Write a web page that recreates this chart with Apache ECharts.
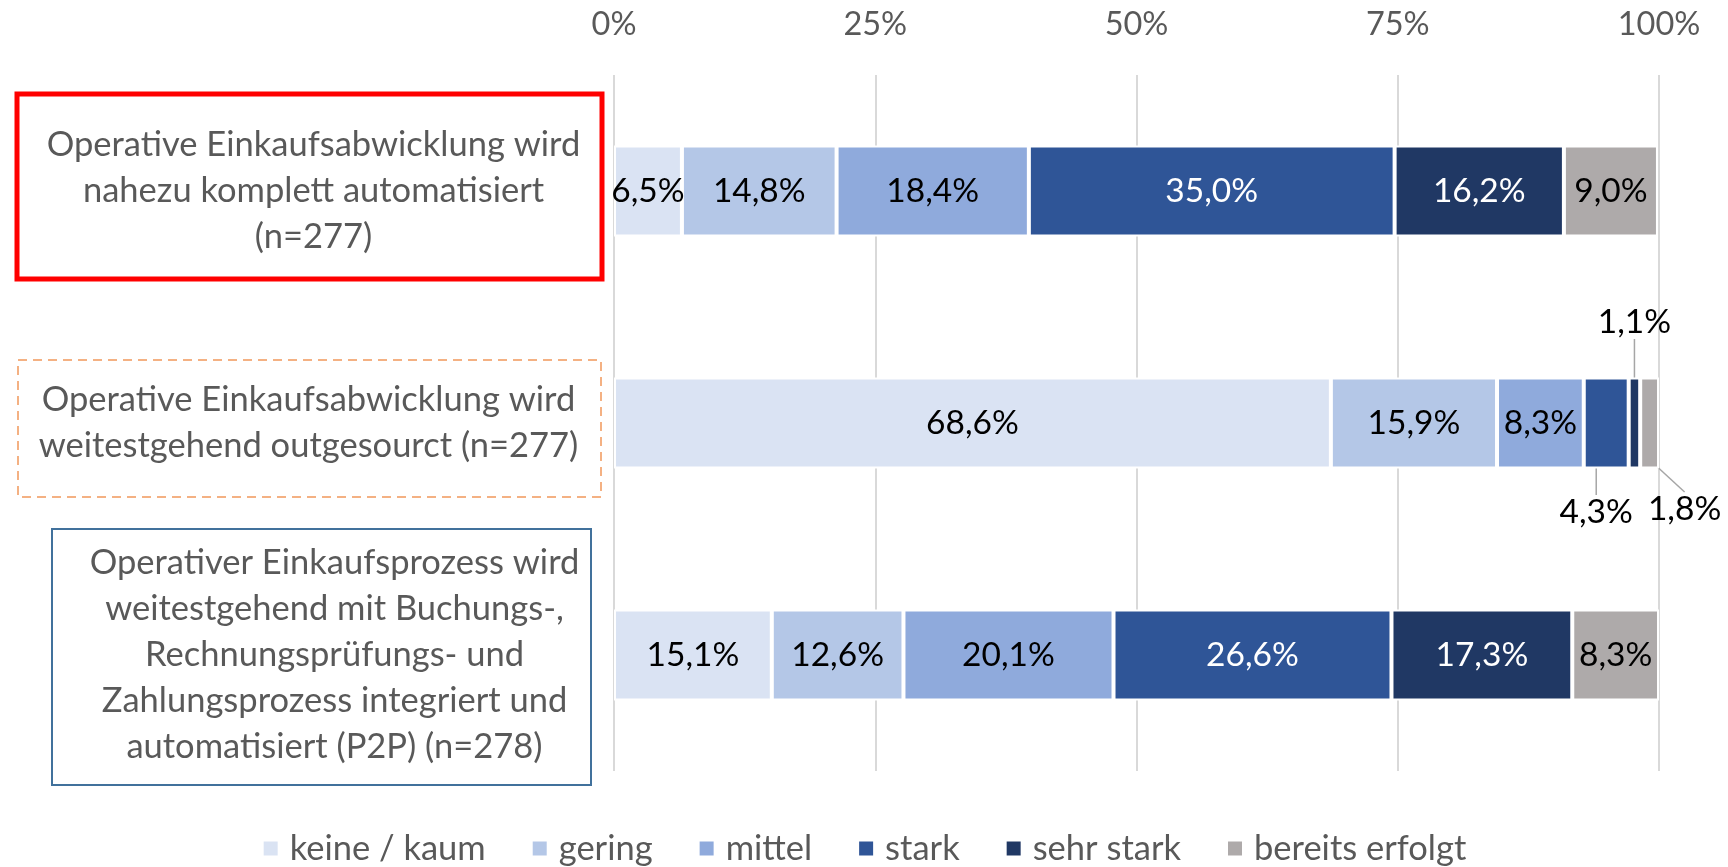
<!DOCTYPE html>
<html>
<head>
<meta charset="utf-8">
<script src="https://cdn.jsdelivr.net/npm/echarts@6/dist/echarts.min.js"></script>
<style>
  html, body { margin: 0; padding: 0; background: #fff; }
  #chart { width: 1728px; height: 867px; }
</style>
</head>
<body>
<div id="chart"></div>
<script>
// categories (top to bottom)
const categories = [
  'Operative Einkaufsabwicklung wird\nnahezu komplett automatisiert\n(n=277)',
  'Operative Einkaufsabwicklung wird\nweitestgehend outgesourct (n=277)',
  'Operativer Einkaufsprozess wird\nweitestgehend mit Buchungs-,\nRechnungsprüfungs- und\nZahlungsprozess integriert und\nautomatisiert (P2P) (n=278)'
]
const seriesNames = ['keine / kaum', 'gering', 'mittel', 'stark', 'sehr stark', 'bereits erfolgt']
const keineKaum = [6.5, 68.6, 15.1]
const gering = [14.8, 15.9, 12.6]
const mittel = [18.4, 8.3, 20.1]
const stark = [35.0, 4.3, 26.6]
const sehrStark = [16.2, 1.1, 17.3]
const bereitsErfolgt = [9.0, 1.8, 8.3]
const tickLabels = ['0%', '25%', '50%', '75%', '100%']

const seriesValues = [keineKaum, gering, mittel, stark, sehrStark, bereitsErfolgt]
const colors = ['#DAE3F3', '#B4C7E7', '#8FAADC', '#2F5597', '#203864', '#AEAAAA']
const labelColors = ['#000', '#000', '#000', '#fff', '#fff', '#000']

// labels of the tiny segments moved outside the bar: [seriesIndex][dataIndex] -> [dx, dy]
const movedLabels = {
  3: { 1: [-10, 89] },
  4: { 1: [0, -101] },
  5: { 1: [35, 86] }
}

const FONT = 'Lato, "Noto Sans", sans-serif'
const GREY = '#595959'

const fmt = v => v.toFixed(1).replace('.', ',') + '%'

const chart = echarts.init(document.getElementById('chart'))

const series = seriesNames.map((name, si) => ({
  name,
  type: 'bar',
  stack: 'total',
  barWidth: 91,
  data: seriesValues[si].map((v, di) => {
    const item = { value: v }
    if (movedLabels[si] && movedLabels[si][di]) {
      item.label = { color: '#000' }
      item.labelLine = { show: true, lineStyle: { color: '#A6A6A6', width: 1.5 } }
    }
    return item
  }),
  itemStyle: { color: colors[si], borderColor: '#fff', borderWidth: 2 },
  label: {
    show: true,
    position: 'inside',
    color: labelColors[si],
    fontFamily: FONT,
    fontSize: 33.5,
    formatter: p => fmt(p.value)
  },
  labelLayout: p => {
    const m = movedLabels[p.seriesIndex] && movedLabels[p.seriesIndex][p.dataIndex]
    return m ? { dx: m[0], dy: m[1] } : {}
  },
  emphasis: { disabled: true }
}))

const labelWidths = [531, 541, 489]
const rich = {}
labelWidths.forEach((w, i) => {
  rich['c' + i] = { width: w, align: 'center', fontFamily: FONT, fontSize: 34.5, lineHeight: 46, color: GREY }
})

const option = {
  animation: false,
  color: colors,
  grid: { left: 614, right: 69, top: 75, bottom: 96 },
  legend: {
    data: seriesNames,
    top: 826,
    left: 'center',
    icon: 'rect',
    itemWidth: 16,
    itemHeight: 16,
    itemGap: 45,
    selectedMode: false,
    textStyle: { color: GREY, fontFamily: FONT, fontSize: 34.5, padding: [0, 0, 0, 6] }
  },
  xAxis: {
    type: 'value',
    position: 'top',
    min: 0,
    max: 100,
    interval: 25,
    axisLine: { show: false },
    axisTick: { show: false },
    splitLine: { lineStyle: { color: '#D9D9D9', width: 2 } },
    axisLabel: {
      color: GREY,
      fontFamily: FONT,
      fontSize: 32.5,
      margin: 34,
      formatter: v => tickLabels[Math.round(v / 25)]
    }
  },
  yAxis: {
    type: 'category',
    inverse: true,
    data: categories,
    axisLine: { show: false },
    axisTick: { show: false },
    axisLabel: {
      interval: 0,
      align: 'right',
      margin: 35,
      formatter: (value, index) => value.split('\n').map(l => '{c' + index + '|' + l + '}').join('\n'),
      rich
    }
  },
  graphic: [
    { type: 'rect', silent: true, shape: { x: 17, y: 94, width: 585, height: 185 },
      style: { fill: 'none', stroke: '#FF0000', lineWidth: 5 } },
    { type: 'rect', silent: true, shape: { x: 18, y: 360, width: 583, height: 137 },
      style: { fill: 'none', stroke: '#F4B183', lineWidth: 2, lineDash: [9, 6] } },
    { type: 'rect', silent: true, shape: { x: 52, y: 529, width: 539, height: 256 },
      style: { fill: 'none', stroke: '#41719C', lineWidth: 2 } }
  ],
  series
}

chart.setOption(option)
window.addEventListener('resize', () => chart.resize())
</script>
</body>
</html>
